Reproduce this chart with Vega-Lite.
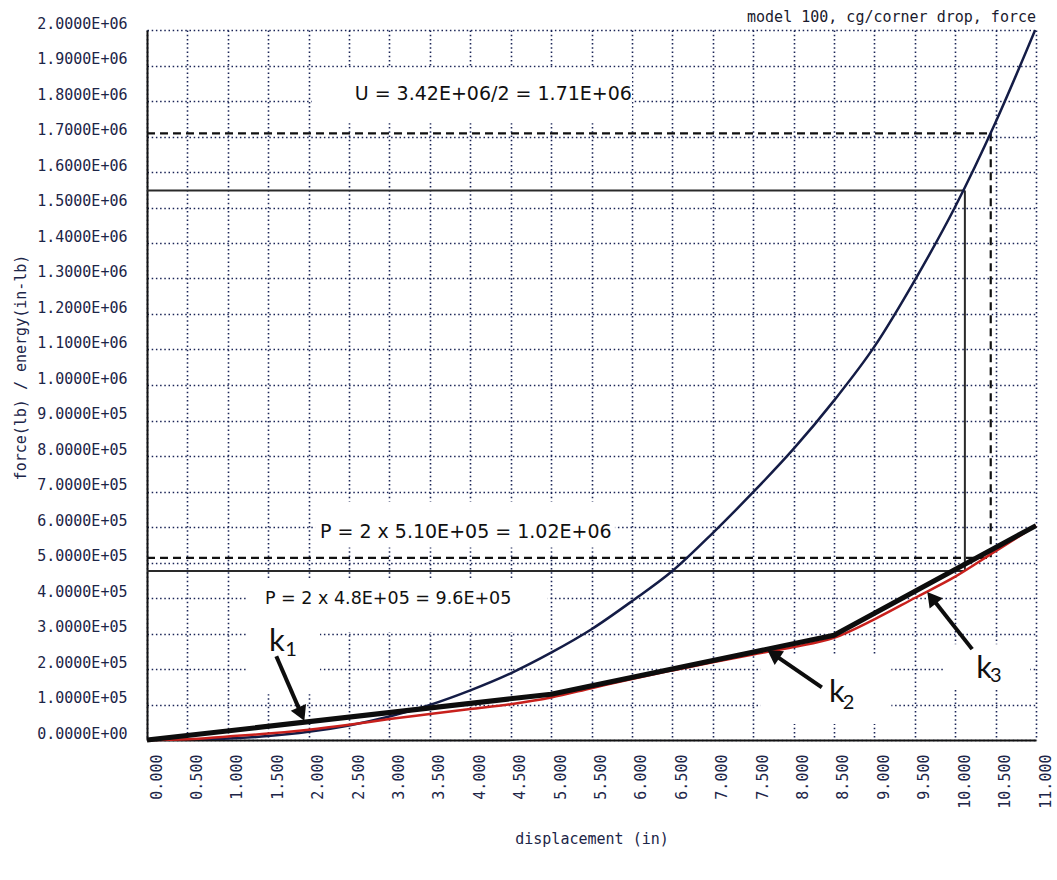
{
  "$schema": "https://vega.github.io/schema/vega-lite/v6.json",
  "width": 889,
  "height": 710,
  "autosize": "none",
  "padding": {"left": 147, "top": 30, "right": 21, "bottom": 140},
  "background": "white",
  "config": {"view": {"stroke": null}},
  "datasets": {
    "energy": [
      {"x": 0, "y": 0}, {"x": 0.5, "y": 500}, {"x": 1.0, "y": 4000}, {"x": 1.5, "y": 11000},
      {"x": 2.0, "y": 23000}, {"x": 2.5, "y": 41000}, {"x": 3.0, "y": 66000}, {"x": 3.5, "y": 99000},
      {"x": 4.0, "y": 140000}, {"x": 4.5, "y": 188000}, {"x": 5.0, "y": 246000}, {"x": 5.5, "y": 312000},
      {"x": 6.0, "y": 391000}, {"x": 6.5, "y": 476000}, {"x": 7.0, "y": 583000}, {"x": 7.5, "y": 698000},
      {"x": 8.0, "y": 820000}, {"x": 8.5, "y": 956000}, {"x": 9.0, "y": 1108000}, {"x": 9.5, "y": 1295000},
      {"x": 10.0, "y": 1502000}, {"x": 10.5, "y": 1740000}, {"x": 10.99, "y": 2000000}
    ],
    "force": [
      {"x": 0, "y": 0}, {"x": 0.5, "y": 2000}, {"x": 1.0, "y": 10000}, {"x": 1.5, "y": 18000},
      {"x": 2.0, "y": 29000}, {"x": 2.5, "y": 43000}, {"x": 3.0, "y": 59000}, {"x": 3.5, "y": 73000},
      {"x": 4.0, "y": 87000}, {"x": 4.5, "y": 101000}, {"x": 5.0, "y": 120000}, {"x": 5.5, "y": 146000},
      {"x": 6.0, "y": 172000}, {"x": 6.5, "y": 196000}, {"x": 7.0, "y": 219000}, {"x": 7.5, "y": 241000},
      {"x": 8.0, "y": 262000}, {"x": 8.5, "y": 288000}, {"x": 9.0, "y": 340000}, {"x": 9.5, "y": 400000},
      {"x": 10.0, "y": 460000}, {"x": 10.5, "y": 532000}, {"x": 11.0, "y": 604000}
    ],
    "kline": [
      {"x": 0, "y": 0}, {"x": 5.0, "y": 129000}, {"x": 8.5, "y": 295000}, {"x": 11.0, "y": 604000}
    ],
    "blanks": [
      {"x": 2.04, "x2": 6.0, "y": 1737000, "y2": 1894000},
      {"x": 2.08, "x2": 5.79, "y": 542000, "y2": 672000},
      {"x": 1.24, "x2": 4.96, "y": 304000, "y2": 452000},
      {"x": 1.24, "x2": 2.14, "y": 129000, "y2": 452000},
      {"x": 7.59, "x2": 9.21, "y": 45000, "y2": 242000},
      {"x": 9.85, "x2": 10.93, "y": 143000, "y2": 270000}
    ],
    "solidrefs": [
      {"x": 0, "x2": 10.12, "y": 1548000, "y2": 1548000},
      {"x": 10.12, "x2": 10.12, "y": 1548000, "y2": 476000},
      {"x": 0, "x2": 10.12, "y": 476000, "y2": 476000}
    ],
    "dashedrefs": [
      {"x": 0, "x2": 10.44, "y": 1709000, "y2": 1709000},
      {"x": 10.44, "x2": 10.44, "y": 1709000, "y2": 513000},
      {"x": 0, "x2": 10.44, "y": 513000, "y2": 513000}
    ],
    "arrows": [
      {"name": "k1", "x": 1.60, "y": 236000, "x2": 1.91, "y2": 73000},
      {"name": "k2", "x": 8.35, "y": 148000, "x2": 7.75, "y2": 242000},
      {"name": "k3", "x": 10.21, "y": 256000, "x2": 9.71, "y2": 401000}
    ],
    "notes": [
      {"x": 2.57, "y": 1802000, "label": "U = 3.42E+06/2 = 1.71E+06"},
      {"x": 2.14, "y": 570000, "label": "P = 2 x 5.10E+05 = 1.02E+06"},
      {"x": 1.46, "y": 382000, "label": "P = 2 x 4.8E+05 = 9.6E+05"}
    ],
    "kletters": [
      {"x": 1.51, "y": 251000, "label": "k"},
      {"x": 8.44, "y": 106000, "label": "k"},
      {"x": 10.26, "y": 176000, "label": "k"}
    ],
    "ksubs": [
      {"x": 1.71, "y": 237000, "label": "1"},
      {"x": 8.61, "y": 87000, "label": "2"},
      {"x": 10.43, "y": 162000, "label": "3"}
    ],
    "heading": [
      {"x": 11, "y": 2000000, "label": "model 100, cg/corner drop, force"}
    ]
  },
  "encoding": {
    "x": {
      "field": "x", "type": "quantitative",
      "scale": {"domain": [0, 11], "nice": false, "zero": false},
      "axis": {
        "values": [0, 0.5, 1, 1.5, 2, 2.5, 3, 3.5, 4, 4.5, 5, 5.5, 6, 6.5, 7, 7.5, 8, 8.5, 9, 9.5, 10, 10.5, 11],
        "format": ".3f",
        "labelAngle": 270,
        "labelFont": "DejaVu Sans Mono",
        "labelFontSize": 15,
        "labelColor": "#1c2548",
        "labelPadding": 14,
        "labelOffset": 9,
        "labelFlush": false,
        "labelOverlap": false,
        "ticks": false,
        "domainColor": "#111111",
        "domainWidth": 2,
        "grid": true,
        "gridColor": "#1a2456",
        "gridDash": [1.5, 2.7],
        "gridWidth": 1.6,
        "gridOpacity": 1,
        "title": "displacement (in)",
        "titleFont": "DejaVu Sans Mono",
        "titleFontSize": 15,
        "titleFontWeight": "normal",
        "titleColor": "#1c2548",
        "titleY": 98,
        "titleBaseline": "middle"
      }
    },
    "y": {
      "field": "y", "type": "quantitative",
      "scale": {"domain": [0, 2000000], "nice": false, "zero": false},
      "axis": {
        "values": [0, 100000, 200000, 300000, 400000, 500000, 600000, 700000, 800000, 900000, 1000000, 1100000, 1200000, 1300000, 1400000, 1500000, 1600000, 1700000, 1800000, 1900000, 2000000],
        "labelExpr": "datum.value == 0 ? '0.0000E+00' : format(datum.value / pow(10, floor(log(datum.value) / LN10 + 1e-9)), '.4f') + 'E+' + (floor(log(datum.value) / LN10 + 1e-9) < 10 ? '0' : '') + floor(log(datum.value) / LN10 + 1e-9)",
        "labelFont": "DejaVu Sans Mono",
        "labelFontSize": 15,
        "labelColor": "#1c2548",
        "labelPadding": 20,
        "labelOffset": -7,
        "labelFlush": false,
        "labelOverlap": false,
        "ticks": false,
        "domainColor": "#111111",
        "domainWidth": 2,
        "grid": true,
        "gridColor": "#1a2456",
        "gridDash": [1.5, 2.7],
        "gridWidth": 1.6,
        "gridOpacity": 1,
        "title": "force(lb) / energy(in-lb)",
        "titleFont": "DejaVu Sans Mono",
        "titleFontSize": 15,
        "titleFontWeight": "normal",
        "titleColor": "#1c2548",
        "titleAngle": 270,
        "titleX": -127,
        "titleY": 337,
        "titleAlign": "center",
        "titleBaseline": "middle"
      }
    }
  },
  "layer": [
    {
      "data": {"name": "blanks"},
      "mark": {"type": "rect", "color": "white", "opacity": 1},
      "encoding": {"x2": {"field": "x2"}, "y2": {"field": "y2"}}
    },
    {
      "data": {"name": "solidrefs"},
      "mark": {"type": "rule", "color": "#2a2a2a", "strokeWidth": 2},
      "encoding": {"x2": {"field": "x2"}, "y2": {"field": "y2"}}
    },
    {
      "data": {"name": "dashedrefs"},
      "mark": {"type": "rule", "color": "#111111", "strokeWidth": 2.2, "strokeDash": [8, 5]},
      "encoding": {"x2": {"field": "x2"}, "y2": {"field": "y2"}}
    },
    {
      "data": {"name": "energy"},
      "mark": {"type": "line", "color": "#141c46", "strokeWidth": 2.5, "clip": true, "interpolate": "monotone"},
      "encoding": {}
    },
    {
      "data": {"name": "force"},
      "mark": {"type": "line", "color": "#c8201c", "strokeWidth": 2.5, "interpolate": "monotone"},
      "encoding": {}
    },
    {
      "data": {"name": "kline"},
      "mark": {"type": "line", "color": "#0d0d0d", "strokeWidth": 5, "strokeJoin": "round"},
      "encoding": {}
    },
    {
      "data": {"name": "arrows"},
      "mark": {"type": "rule", "color": "#0d0d0d", "strokeWidth": 4},
      "encoding": {"x2": {"field": "x2"}, "y2": {"field": "y2"}}
    },
    {
      "data": {"name": "arrows"},
      "transform": [{"filter": "datum.name == 'k1'"}],
      "mark": {"type": "point", "shape": "triangle-up", "filled": true, "color": "#0d0d0d", "opacity": 1, "size": 280, "angle": 156},
      "encoding": {"x": {"field": "x2", "type": "quantitative"}, "y": {"field": "y2", "type": "quantitative"}}
    },
    {
      "data": {"name": "arrows"},
      "transform": [{"filter": "datum.name == 'k2'"}],
      "mark": {"type": "point", "shape": "triangle-up", "filled": true, "color": "#0d0d0d", "opacity": 1, "size": 280, "angle": 304},
      "encoding": {"x": {"field": "x2", "type": "quantitative"}, "y": {"field": "y2", "type": "quantitative"}}
    },
    {
      "data": {"name": "arrows"},
      "transform": [{"filter": "datum.name == 'k3'"}],
      "mark": {"type": "point", "shape": "triangle-up", "filled": true, "color": "#0d0d0d", "opacity": 1, "size": 280, "angle": 322},
      "encoding": {"x": {"field": "x2", "type": "quantitative"}, "y": {"field": "y2", "type": "quantitative"}}
    },
    {
      "data": {"name": "notes"},
      "transform": [{"filter": "datum.label != 'P = 2 x 4.8E+05 = 9.6E+05'"}],
      "mark": {"type": "text", "font": "DejaVu Sans", "fontSize": 19, "align": "left", "baseline": "alphabetic", "color": "#111111"},
      "encoding": {"text": {"field": "label"}}
    },
    {
      "data": {"name": "notes"},
      "transform": [{"filter": "datum.label == 'P = 2 x 4.8E+05 = 9.6E+05'"}],
      "mark": {"type": "text", "font": "DejaVu Sans", "fontSize": 17.5, "align": "left", "baseline": "alphabetic", "color": "#111111"},
      "encoding": {"text": {"field": "label"}}
    },
    {
      "data": {"name": "kletters"},
      "mark": {"type": "text", "font": "Lato", "fontSize": 31, "align": "left", "baseline": "alphabetic", "color": "#111111"},
      "encoding": {"text": {"field": "label"}}
    },
    {
      "data": {"name": "ksubs"},
      "mark": {"type": "text", "font": "Lato", "fontSize": 20, "align": "left", "baseline": "alphabetic", "color": "#111111"},
      "encoding": {"text": {"field": "label"}}
    },
    {
      "data": {"name": "heading"},
      "mark": {"type": "text", "font": "DejaVu Sans Mono", "fontSize": 15, "align": "right", "baseline": "alphabetic", "dy": -8, "color": "#1a1a2e"},
      "encoding": {"text": {"field": "label"}}
    }
  ]
}
